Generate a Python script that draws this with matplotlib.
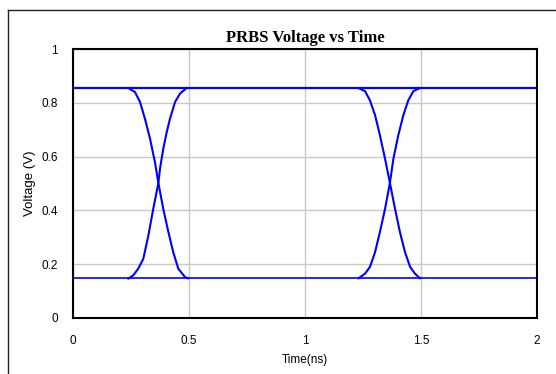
import matplotlib
matplotlib.use('Agg')
from matplotlib import pyplot as plt
from matplotlib.lines import Line2D

# eye diagram levels (V) over the 0..2 ns window
t_span = [0, 2]
v_high = [0.855, 0.855]
v_low = [0.147, 0.147]

# first transition window
fall1_t = [0.238, 0.267, 0.289, 0.310, 0.332, 0.353, 0.368, 0.389, 0.411, 0.432, 0.454, 0.483, 0.497]
fall1_v = [0.855, 0.840, 0.803, 0.741, 0.667, 0.580, 0.502, 0.406, 0.320, 0.245, 0.183, 0.152, 0.147]
rise1_t = [0.238, 0.260, 0.281, 0.303, 0.325, 0.346, 0.368, 0.375, 0.389, 0.404, 0.418, 0.440, 0.461, 0.490]
rise1_v = [0.146, 0.159, 0.183, 0.220, 0.307, 0.406, 0.502, 0.555, 0.629, 0.691, 0.741, 0.803, 0.834, 0.855]

# second transition window
fall2_t = [1.230, 1.259, 1.280, 1.302, 1.323, 1.345, 1.366, 1.388, 1.409, 1.431, 1.453, 1.474, 1.496]
fall2_v = [0.855, 0.843, 0.809, 0.754, 0.679, 0.592, 0.502, 0.406, 0.320, 0.245, 0.190, 0.165, 0.147]
rise2_t = [1.230, 1.259, 1.280, 1.302, 1.323, 1.345, 1.366, 1.381, 1.402, 1.424, 1.445, 1.467, 1.496]
rise2_v = [0.147, 0.165, 0.190, 0.245, 0.320, 0.406, 0.502, 0.592, 0.679, 0.754, 0.809, 0.843, 0.855]

xticks = [0, 0.5, 1, 1.5, 2]
xtick_labels = ['0', '0.5', '1', '1.5', '2']
yticks = [0, 0.2, 0.4, 0.6, 0.8, 1]
ytick_labels = ['0', '0.2', '0.4', '0.6', '0.8', '1']

W, H = 556, 374
fig = plt.figure(figsize=(W / 100, H / 100), dpi=100)
ax = fig.add_axes([73 / W, 1 - 318 / H, (537 - 73) / W, (318 - 49) / H])

blue = '#0000ff'
ax.plot(t_span, v_high, color=blue, lw=1.6)
ax.plot(t_span, v_low, color=blue, lw=1.2)
for t, v in [(fall1_t, fall1_v), (rise1_t, rise1_v), (fall2_t, fall2_v), (rise2_t, rise2_v)]:
    ax.plot(t, v, color=blue, lw=1.5, solid_joinstyle='round', solid_capstyle='round')

ax.set_xlim(0, 2)
ax.set_ylim(0, 1)
ax.set_xticks(xticks)
ax.set_xticklabels(xtick_labels)
ax.set_yticks(yticks)
ax.set_yticklabels(ytick_labels)
ax.grid(True, color='#c8c8c8', lw=1)
ax.set_axisbelow(True)
ax.tick_params(length=0, labelsize=8.5, pad=12)
ax.tick_params(axis='y', pad=11)
for lab in ax.get_xticklabels() + ax.get_yticklabels():
    lab.set_family('Liberation Sans')
for s in ax.spines.values():
    s.set_linewidth(1.5)
    s.set_color('black')

ax.set_title('PRBS Voltage vs Time', fontsize=12, fontweight='bold',
             family='Liberation Serif', pad=5)
ax.set_xlabel('Time(ns)', fontsize=8.5, family='Liberation Sans', labelpad=5)
ax.set_ylabel('Voltage (V)', fontsize=9.5, family='Liberation Sans', labelpad=4)

# outer chart frame (cropped on right and bottom)
fig.add_artist(Line2D([8 / W, 1], [1 - 10 / H, 1 - 10 / H], color='#222222', lw=1))
fig.add_artist(Line2D([8 / W, 8 / W], [1 - 10 / H, 0], color='#222222', lw=1))

fig.savefig('out.png', dpi=100)
